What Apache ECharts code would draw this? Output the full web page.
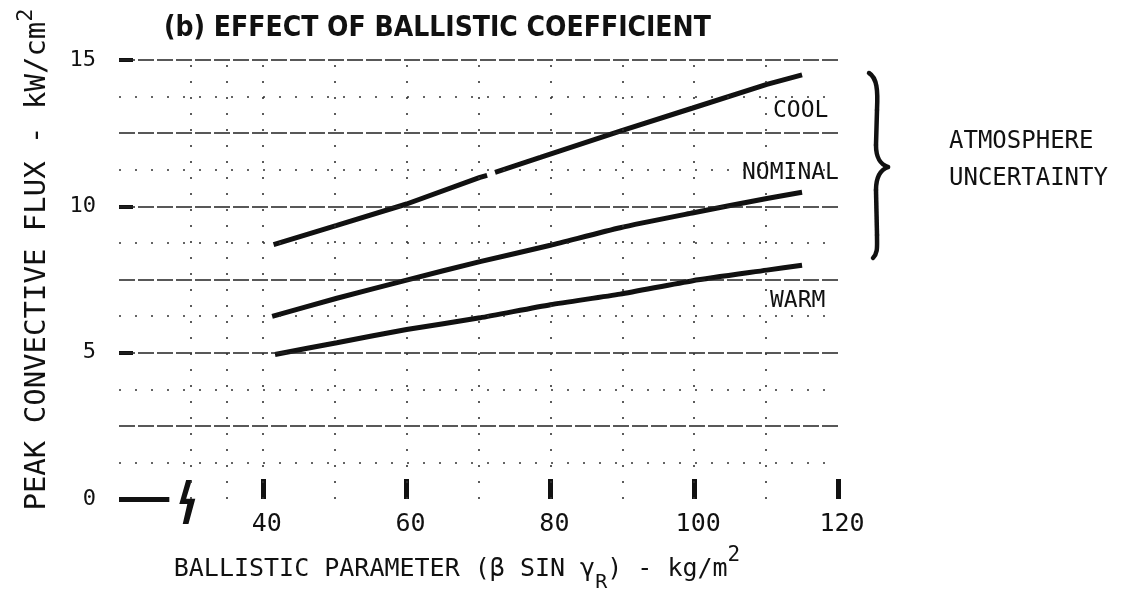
<!DOCTYPE html>
<html>
<head>
<meta charset="utf-8">
<script src="https://cdn.jsdelivr.net/npm/echarts@6/dist/echarts.min.js"></script>
<style>
  html, body { margin: 0; padding: 0; background: #fff; }
  #chart { width: 1122px; height: 598px; }
</style>
</head>
<body>
<div id="chart"></div>
<script>
  // peak convective flux (kW/cm^2) against ballistic parameter (kg/m^2)
  const coolData = [[41.5, 8.69], [50.3, 9.35], [60.0, 10.08], [70.2, 10.99], [71.2, 11.06], [71.8, '-'],
    [72.3, 11.16], [78.6, 11.67], [89.7, 12.57], [99.8, 13.36], [110.1, 14.17], [115.0, 14.49]];
  const nominalData = [[41.3, 6.24], [50.3, 6.86], [60.0, 7.48], [70.2, 8.11], [80.0, 8.67],
    [89.7, 9.27], [99.9, 9.78], [110.1, 10.27], [115.0, 10.48]];
  const warmData = [[41.7, 4.94], [50.3, 5.34], [60.0, 5.79], [70.2, 6.19], [80.0, 6.64],
    [89.7, 7.00], [99.8, 7.46], [110.1, 7.82], [115.0, 7.99]];

  const xTicks = [40, 60, 80, 100, 120];
  const yTicks = [0, 5, 10, 15];
  const yStubs = [5, 10, 15];
  const majorY = [2.5, 5, 7.5, 10, 12.5, 15];
  const minorY = [1.25, 3.75, 6.25, 8.75, 11.25, 13.75];
  const dottedX = [30, 35, 40, 50, 60, 70, 80, 90, 100, 110];
  const zeroStub = [20, 27];
  const axisBreak = [29.5, 0];

  const mono = "'DejaVu Sans Mono', 'Liberation Mono', monospace";
  const ink = '#111';

  let chart = echarts.init(document.getElementById('chart'));

  let gridLines = [];
  majorY.forEach(v => gridLines.push({yAxis: v, lineStyle: {type: [16, 3], width: 1.6, color: '#222'}}));
  minorY.forEach(v => gridLines.push({yAxis: v, lineStyle: {type: [2, 14], width: 1.6, color: '#333'}}));
  dottedX.forEach(v => gridLines.push({xAxis: v, lineStyle: {type: [2, 14], width: 1.6, color: '#333'}}));
  gridLines.push([{coord: [zeroStub[0], 0]}, {coord: [zeroStub[1], 0]}]);

  // the curly brace next to the curve labels
  const braceStyle = {stroke: ink, lineWidth: 4.5, fill: null, lineCap: 'round'};
  const brace = [
    {type: 'bezierCurve', shape: {x1: 869, y1: 73, cpx1: 877, cpy1: 78, cpx2: 878, cpy2: 90, x2: 877, y2: 110}, style: braceStyle},
    {type: 'line', shape: {x1: 877, y1: 110, x2: 876, y2: 145}, style: braceStyle},
    {type: 'bezierCurve', shape: {x1: 876, y1: 145, cpx1: 876, cpy1: 158, cpx2: 880, cpy2: 164, x2: 888, y2: 167}, style: braceStyle},
    {type: 'bezierCurve', shape: {x1: 888, y1: 167, cpx1: 880, cpy1: 170, cpx2: 876, cpy2: 178, x2: 876, y2: 190}, style: braceStyle},
    {type: 'line', shape: {x1: 876, y1: 190, x2: 877, y2: 235}, style: braceStyle},
    {type: 'bezierCurve', shape: {x1: 877, y1: 235, cpx1: 877, cpy1: 247, cpx2: 878, cpy2: 253, x2: 873, y2: 258}, style: braceStyle}
  ];

  chart.setOption({
    animation: false,
    title: {
      text: '(b) EFFECT OF BALLISTIC COEFFICIENT',
      left: 159,
      top: 10,
      textStyle: {
        fontFamily: "'Liberation Sans Narrow', 'DejaVu Sans Condensed', sans-serif",
        fontWeight: 'bold',
        fontSize: 28,
        color: ink
      }
    },
    grid: {left: 119, right: 284, top: 60, bottom: 95.5},
    xAxis: {
      type: 'value',
      min: 20,
      max: 120,
      axisLine: {show: false},
      splitLine: {show: false},
      axisTick: {show: true, inside: true, length: 20, customValues: xTicks, lineStyle: {width: 5, color: ink}},
      axisLabel: {customValues: xTicks, margin: 13, padding: [0, 0, 0, 8], fontFamily: mono, fontSize: 25, color: ink},
      name: '{t|BALLISTIC PARAMETER (β SIN γ}{sub|R}{t|) - kg/m}{sup|2}',
      nameLocation: 'middle',
      nameGap: 46,
      nameTextStyle: {
        padding: [0, 43, 0, 0],
        rich: {
          t: {fontFamily: mono, fontSize: 25, color: ink, lineHeight: 48},
          sub: {fontFamily: mono, fontSize: 20, color: ink, lineHeight: 20, verticalAlign: 'bottom'},
          sup: {fontFamily: mono, fontSize: 21, color: ink, lineHeight: 20, verticalAlign: 'top'}
        }
      }
    },
    yAxis: {
      type: 'value',
      min: 0,
      max: 15,
      axisLine: {show: false},
      splitLine: {show: false},
      axisTick: {show: true, inside: true, length: 14, customValues: yStubs, lineStyle: {width: 4, color: ink}},
      axisLabel: {customValues: yTicks, margin: 23, fontFamily: mono, fontSize: 22, color: ink},
      name: '{t|PEAK CONVECTIVE FLUX - kW/cm}{sup|2}',
      nameLocation: 'middle',
      nameRotate: 90,
      nameGap: 60,
      nameTextStyle: {
        padding: [0, 0, 0, 40],
        rich: {
          t: {fontFamily: mono, fontSize: 29, color: ink, lineHeight: 44},
          sup: {fontFamily: mono, fontSize: 22, color: ink, lineHeight: 20, verticalAlign: 'top'}
        }
      }
    },
    series: [
      {
        name: 'grid',
        type: 'line',
        data: [],
        silent: true,
        markLine: {
          silent: true,
          symbol: 'none',
          label: {show: false},
          lineStyle: {color: ink, width: 5, type: 'solid'},
          data: gridLines
        }
      },
      {
        name: 'break',
        type: 'scatter',
        silent: true,
        data: [axisBreak],
        symbol: 'path://M6,0 L11,0 L6,18 L14,18 L8,42 L3,42 L7,23 L0,23 Z',
        symbolSize: [16, 44],
        symbolOffset: [0, 3],
        itemStyle: {color: ink, opacity: 1}
      },
      {name: 'COOL', type: 'line', data: coolData, showSymbol: false, symbol: 'none',
        lineStyle: {width: 5, color: ink}},
      {name: 'NOMINAL', type: 'line', data: nominalData, showSymbol: false, symbol: 'none', smooth: 0.2,
        lineStyle: {width: 5, color: ink}},
      {name: 'WARM', type: 'line', data: warmData, showSymbol: false, symbol: 'none', smooth: 0.2,
        lineStyle: {width: 5, color: ink}}
    ],
    graphic: [
      {type: 'text', left: 773, top: 100, style: {text: 'COOL', font: "23px 'DejaVu Sans Mono'", fill: ink}},
      {type: 'text', left: 742, top: 162, style: {text: 'NOMINAL', font: "23px 'DejaVu Sans Mono'", fill: ink}},
      {type: 'text', left: 770, top: 290, style: {text: 'WARM', font: "23px 'DejaVu Sans Mono'", fill: ink}},
      {type: 'text', left: 949, top: 130, style: {text: 'ATMOSPHERE', font: "24px 'DejaVu Sans Mono'", fill: ink}},
      {type: 'text', left: 949, top: 167, style: {text: 'UNCERTAINTY', font: "24px 'DejaVu Sans Mono'", fill: ink}},
      {type: 'group', children: brace}
    ]
  });
</script>
</body>
</html>
